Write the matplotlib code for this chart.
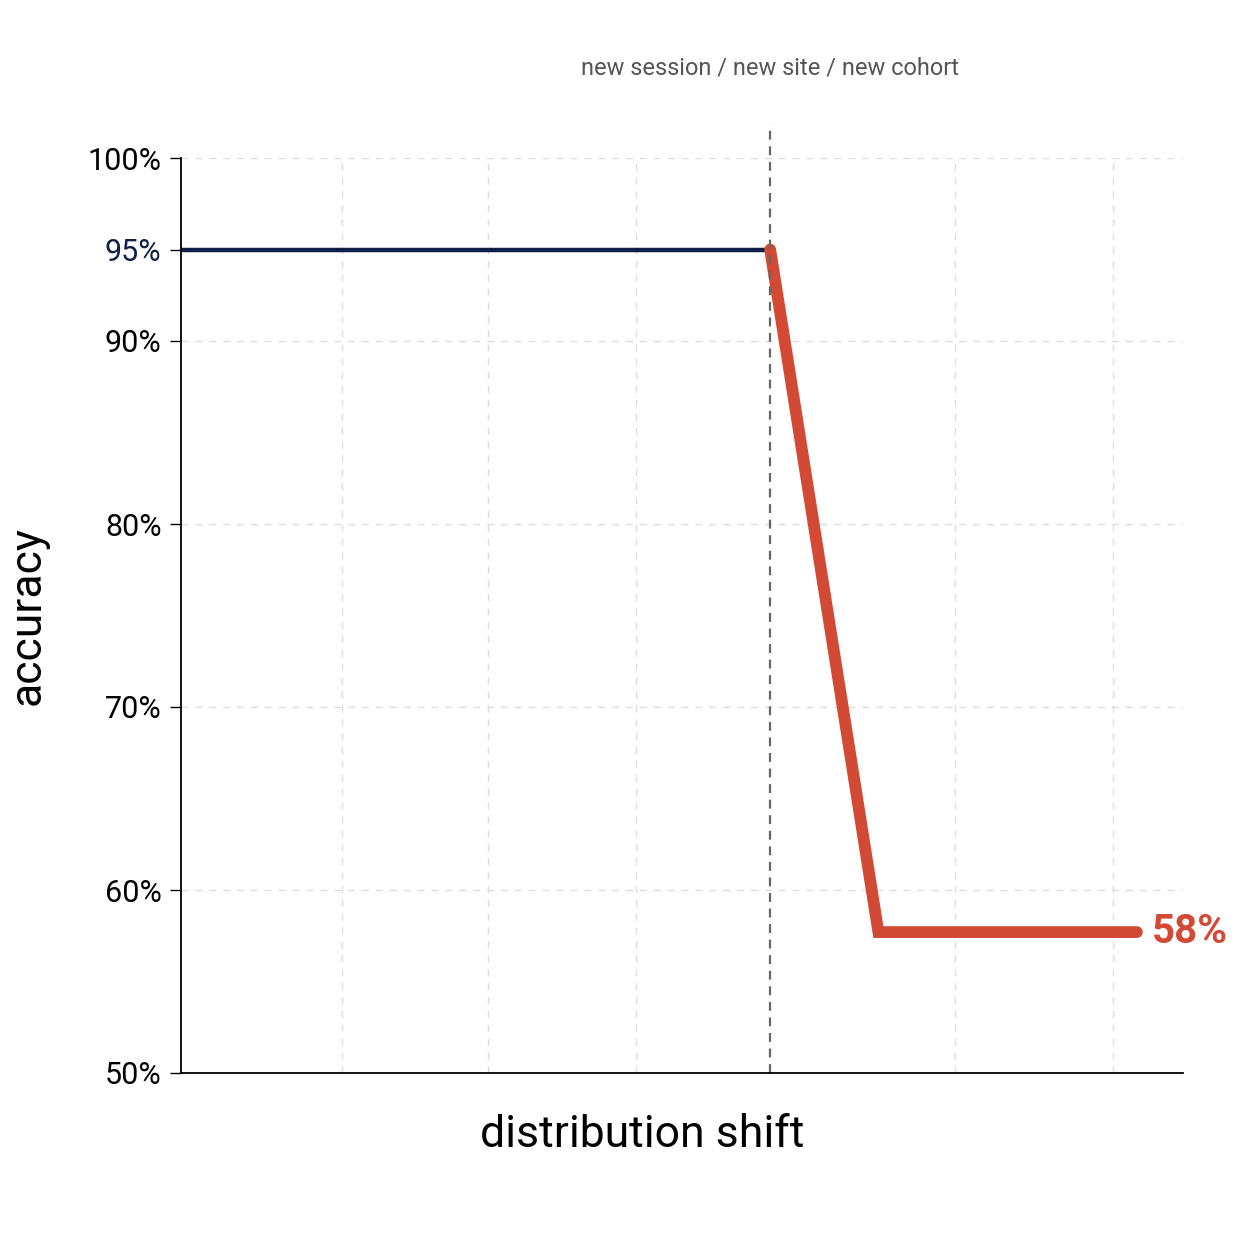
import matplotlib
matplotlib.use("Agg")
import matplotlib.pyplot as plt

plt.rcParams['font.family'] = ['Roboto', 'DejaVu Sans']

# data (x in arbitrary "shift" units 0..10)
before_x = [0.0, 5.88]
before_y = [95, 95]
after_x = [5.88, 6.96, 9.54]
after_y = [95, 57.7, 57.7]
shift_x = 5.88
grid_x = [1.61, 3.06, 4.54, 7.72, 9.30]
grid_y = [60, 70, 80, 90, 100]
yticks = [50, 60, 70, 80, 90, 95, 100]

NAVY = "#0f1f45"
RED = "#d24a35"

fig = plt.figure(figsize=(12.54, 12.54), dpi=100)
ax = fig.add_axes([181/1254, 1-1073/1254, 1002/1254, 915/1254])
ax.set_xlim(0, 10); ax.set_ylim(50, 100)

for gx in grid_x:
    ax.axvline(gx, color="#dddddd", ls=(0, (5, 5)), lw=1, zorder=0)
for gy in grid_y:
    ax.axhline(gy, color="#dddddd", ls=(0, (5, 5)), lw=1, zorder=0)

ax.plot(before_x, before_y, color=NAVY, lw=3.2, solid_capstyle="butt")
ax.plot(after_x, after_y, color=RED, lw=8.5, solid_capstyle="round", solid_joinstyle="miter")
ax.axvline(shift_x, color="#666666", ls=(0, (4, 3)), lw=1.6, ymax=1.037, clip_on=False)
ax.text(shift_x, 104.3, "new session / new site / new cohort", ha="center", va="bottom",
        fontsize=17, color="#555555")
ax.text(after_x[-1] + 0.15, after_y[-1], "58%", color=RED, fontsize=29, fontweight="bold",
        va="center", ha="left")

ax.set_xticks([])
ax.set_yticks(yticks)
ax.set_yticklabels([f"{v}%" for v in yticks], fontsize=22)
for lbl, v in zip(ax.get_yticklabels(), yticks):
    if v == 95:
        lbl.set_color(NAVY)
ax.tick_params(axis="y", length=8, width=1, pad=6)
for s in ("top", "right"):
    ax.spines[s].set_visible(False)
ax.spines["left"].set_linewidth(1.3)
ax.spines["bottom"].set_linewidth(1.3)
ax.set_ylabel("accuracy", fontsize=32, labelpad=28)
ax.set_xlabel("distribution shift", fontsize=32, labelpad=26)
ax.xaxis.set_label_coords(0.46, -0.045)

fig.savefig("out.png", dpi=100, facecolor="white")
